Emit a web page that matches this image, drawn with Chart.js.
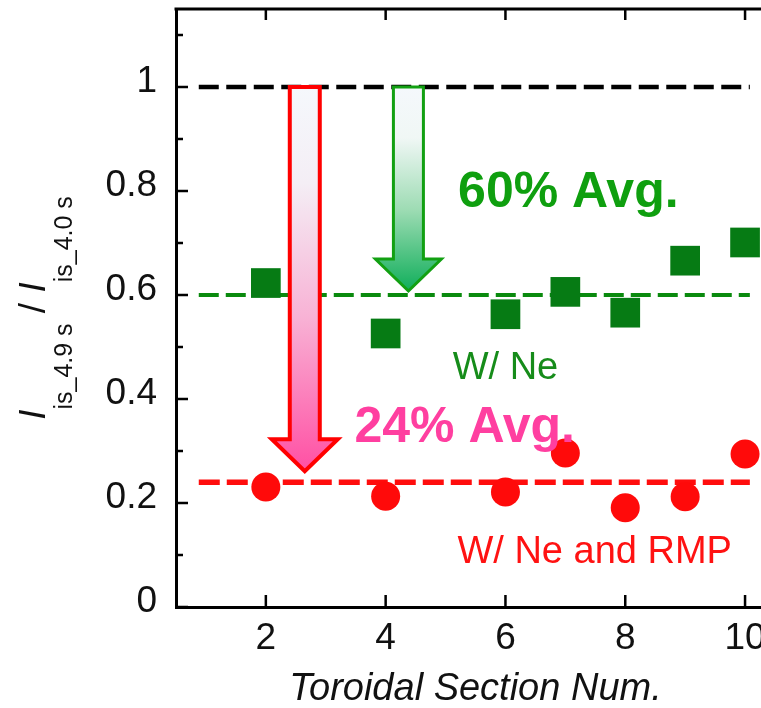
<!DOCTYPE html>
<html>
<head>
<script src="https://cdn.jsdelivr.net/npm/chart.js@4.4.0/dist/chart.umd.min.js"></script>
<style>
body {
  margin: 0;
  overflow: hidden;
  background: #fff;
}
#wrap {
  width: 800px;
  height: 708px;
}
</style>
</head>
<body>

<div id="wrap"><canvas id="chart"></canvas></div>

<script>
// toroidal sections where Iis was measured
var sections = [2, 4, 6, 7, 8, 9, 10];
// Iis(4.9 s) / Iis(4.0 s) with neon only
var withNe = [0.623, 0.526, 0.563, 0.606, 0.566, 0.666, 0.701];
// same ratio with neon and RMP
var withNeRmp = [0.231, 0.213, 0.221, 0.296, 0.191, 0.212, 0.294];
// averages and the starting level
var avgNe = 0.60;
var avgNeRmp = 0.24;
var refLevel = 1;
// x extent of the dashed level lines
var lineSpan = [0.88, 10.08];
// axis ticks
var xTicks = [2, 4, 6, 8, 10];
var yTicks = [0, 0.2, 0.4, 0.6, 0.8, 1];
var yMinor = [0.1, 0.3, 0.5, 0.7, 0.9, 1.1];

var FONT = 'Arial, "Liberation Sans", sans-serif';

function level(y) {
  return lineSpan.map(function (x) { return {x: x, y: y}; });
}
function points(ys) {
  return sections.map(function (x, i) { return {x: x, y: ys[i]}; });
}
function pct(v) {
  return Math.round(v * 100) + '% Avg.';
}

// big hollow arrow with a vertical gradient
function drawArrow(ctx, cx, top, tip, stroke, lw, stops) {
  var sw = 15, hw = 33, hl = 32;
  var base = tip - hl;
  var g = ctx.createLinearGradient(0, top, 0, tip);
  stops.forEach(function (s) { g.addColorStop(s[0], s[1]); });
  ctx.save();
  ctx.beginPath();
  ctx.moveTo(cx - sw, top);
  ctx.lineTo(cx + sw, top);
  ctx.lineTo(cx + sw, base);
  ctx.lineTo(cx + hw, base);
  ctx.lineTo(cx, tip);
  ctx.lineTo(cx - hw, base);
  ctx.lineTo(cx - sw, base);
  ctx.closePath();
  ctx.fillStyle = g;
  ctx.fill();
  ctx.lineWidth = lw;
  ctx.lineJoin = 'miter';
  ctx.strokeStyle = stroke;
  ctx.stroke();
  ctx.restore();
}

function label(ctx, text, x, y, font, color) {
  ctx.save();
  ctx.font = font;
  ctx.fillStyle = color;
  ctx.textAlign = 'center';
  ctx.textBaseline = 'alphabetic';
  ctx.fillText(text, x, y);
  ctx.restore();
}

var extras = {
  id: 'extras',
  afterDatasetsDraw: function (chart) {
    var ctx = chart.ctx, xs = chart.scales.x, ys = chart.scales.y;
    var top = ys.getPixelForValue(refLevel);

    drawArrow(ctx, xs.getPixelForValue(2.65), top, ys.getPixelForValue(avgNeRmp) - 11,
      '#ff0000', 4, [[0, '#f5f8fc'], [0.25, '#f4eef5'], [0.6, '#f8b2d5'], [1, '#ff4fa3']]);
    drawArrow(ctx, xs.getPixelForValue(4.38), top, ys.getPixelForValue(avgNe) - 4,
      '#12a012', 3, [[0, '#f5f8fc'], [0.25, '#f0f7f5'], [0.6, '#9edcb4'], [1, '#0fae5a']]);

    label(ctx, pct(avgNe), xs.getPixelForValue(7.05), ys.getPixelForValue(0.769),
      'bold 50px ' + FONT, '#0f9f0f');
    label(ctx, pct(avgNeRmp), xs.getPixelForValue(5.32), ys.getPixelForValue(0.318),
      'bold 50px ' + FONT, '#ff3fa0');
    label(ctx, 'W/ Ne', xs.getPixelForValue(6.0), ys.getPixelForValue(0.4385),
      '38px ' + FONT, '#168c1a');
    label(ctx, 'W/ Ne and RMP', xs.getPixelForValue(7.49), ys.getPixelForValue(0.0846),
      '38px ' + FONT, '#ff1212');
  },
  afterDraw: function (chart) {
    var ctx = chart.ctx, a = chart.chartArea;
    var xs = chart.scales.x, ys = chart.scales.y;
    ctx.save();
    ctx.strokeStyle = '#000';

    // top frame line
    ctx.lineWidth = 3;
    ctx.beginPath();
    ctx.moveTo(a.left - 1.5, a.top);
    ctx.lineTo(a.right, a.top);
    ctx.stroke();

    // inward tick marks
    ctx.lineWidth = 2.5;
    ctx.beginPath();
    yTicks.forEach(function (v) {
      var y = ys.getPixelForValue(v);
      ctx.moveTo(a.left, y);
      ctx.lineTo(a.left + 12, y);
    });
    yMinor.forEach(function (v) {
      var y = ys.getPixelForValue(v);
      ctx.moveTo(a.left, y);
      ctx.lineTo(a.left + 7, y);
    });
    xTicks.forEach(function (v) {
      var x = xs.getPixelForValue(v);
      ctx.moveTo(x, a.bottom);
      ctx.lineTo(x, a.bottom - 12);
      ctx.moveTo(x, a.top);
      ctx.lineTo(x, a.top + 11);
    });
    ctx.stroke();

    // y title: I_is_4.9 s / I_is_4.0 s, rotated
    var parts = [
      {t: 'I', f: 'italic 37px ' + FONT, dy: 0},
      {t: 'is_4.9 s', f: '25px ' + FONT, dy: 27},
      {t: ' / ', f: '37px ' + FONT, dy: 0},
      {t: 'I', f: 'italic 37px ' + FONT, dy: 0},
      {t: 'is_4.0 s', f: '25px ' + FONT, dy: 27}
    ];
    var total = 0;
    parts.forEach(function (p) {
      ctx.font = p.f;
      p.w = ctx.measureText(p.t).width;
      total += p.w;
    });
    ctx.translate(45, (a.top + a.bottom) / 2);
    ctx.rotate(-Math.PI / 2);
    ctx.fillStyle = '#111';
    ctx.textBaseline = 'alphabetic';
    ctx.textAlign = 'left';
    var x = -total / 2;
    parts.forEach(function (p) {
      ctx.font = p.f;
      ctx.fillText(p.t, x, p.dy);
      x += p.w;
    });
    ctx.restore();
  }
};

var ctx = document.getElementById('chart');
var chart = new Chart(ctx, {
  type: 'scatter',
  data: {
    datasets: [
      {
        data: points(withNe),
        pointStyle: 'rect',
        pointRadius: 21,
        backgroundColor: '#067b14',
        borderWidth: 0,
        order: 1
      },
      {
        data: points(withNeRmp),
        pointStyle: 'circle',
        pointRadius: 14.5,
        backgroundColor: '#ff0a0a',
        borderWidth: 0,
        order: 1
      },
      {
        type: 'line',
        data: level(refLevel),
        borderColor: '#000',
        borderWidth: 4.5,
        borderDash: [20, 7.5],
        pointRadius: 0,
        order: 3
      },
      {
        type: 'line',
        data: level(avgNe),
        borderColor: '#0a8a0e',
        borderWidth: 4,
        borderDash: [20, 7],
        pointRadius: 0,
        order: 3
      },
      {
        type: 'line',
        data: level(avgNeRmp),
        borderColor: '#ff0d0d',
        borderWidth: 5.5,
        borderDash: [21, 7],
        pointRadius: 0,
        order: 3
      }
    ]
  },
  options: {
    responsive: true,
    maintainAspectRatio: false,
    animation: false,
    layout: {
      autoPadding: false,
      padding: { top: 9, right: 25, left: 0, bottom: 0 }
    },
    plugins: {
      legend: { display: false },
      tooltip: { enabled: false }
    },
    scales: {
      x: {
        type: 'linear',
        min: 0.5,
        max: 10.5,
        afterBuildTicks: function (s) {
          s.ticks = xTicks.map(function (v) { return {value: v}; });
        },
        afterFit: function (s) { s.height = 101; },
        grid: { display: false, drawTicks: false },
        border: { color: '#000', width: 3 },
        ticks: {
          color: '#111',
          padding: 10,
          maxRotation: 0,
          autoSkip: false,
          font: { family: FONT, size: 37 }
        },
        title: {
          display: true,
          text: 'Toroidal Section Num.',
          color: '#111',
          padding: { top: 0, bottom: 0 },
          font: { family: FONT, size: 38, style: 'italic', lineHeight: 1 }
        }
      },
      y: {
        min: 0,
        max: 1.15,
        afterBuildTicks: function (s) {
          s.ticks = yTicks.map(function (v) { return {value: v}; });
        },
        afterFit: function (s) {
          s.width = 176;
          s.paddingTop = 0;
          s.paddingBottom = 0;
        },
        grid: { display: false, drawTicks: false },
        border: { color: '#000', width: 3 },
        ticks: {
          color: '#111',
          padding: 19,
          labelOffset: -5,
          font: { family: FONT, size: 37 },
          callback: function (v) { return String(+v.toFixed(1)); }
        }
      }
    }
  },
  plugins: [extras]
});
</script>

</body>
</html>
